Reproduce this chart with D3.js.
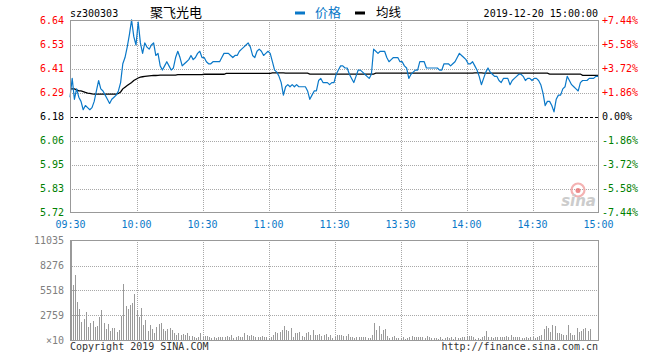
<!DOCTYPE html>
<html><head><meta charset="utf-8">
<script src="https://cdn.jsdelivr.net/npm/d3@7"></script>
<style>body{margin:0;background:#fff}svg{display:block}</style>
</head><body><svg id="c" width="660" height="360"></svg>
<script>
const stockCode = "sz300303";
const stockName = "聚飞光电";
const stamp = "2019-12-20 15:00:00";
const prevClose = 6.18;
const timeTickMinutes = [0, 30, 60, 90, 120, 150, 180, 210, 240];
const timeTickLabels = ["09:30","10:00","10:30","11:00","11:30","13:30","14:00","14:30","15:00"];
const pctTickValues = [7.44, 5.58, 3.72, 1.86, 0, -1.86, -3.72, -5.58, -7.44];
const priceTickLabels = ["6.64","6.53","6.41","6.29","6.18","6.06","5.95","5.83","5.72"];
const pctTickLabels = ["+7.44%","+5.58%","+3.72%","+1.86%","0.00%","-1.86%","-3.72%","-5.58%","-7.44%"];
const volTickValues = [11035, 8276, 5518, 2759, 0];
const volTickLabels = ["11035","8276","5518","2759","×10"];
const legendLabels = ["价格", "均线"];

const prices = [
6.27,6.36,6.26,6.31,6.27,6.25,6.21,6.23,6.22,6.21,
6.22,6.25,6.30,6.35,6.31,6.30,6.28,6.26,6.24,6.26,
6.27,6.28,6.30,6.34,6.43,6.46,6.51,6.57,6.64,6.56,
6.52,6.63,6.53,6.48,6.53,6.51,6.50,6.52,6.53,6.47,
6.48,6.42,6.40,6.42,6.44,6.42,6.40,6.41,6.46,6.49,
6.46,6.42,6.43,6.44,6.45,6.47,6.45,6.46,6.48,6.49,
6.46,6.46,6.44,6.43,6.43,6.44,6.44,6.44,6.44,6.46,
6.48,6.48,6.48,6.47,6.46,6.47,6.47,6.49,6.50,6.51,
6.52,6.53,6.51,6.47,6.46,6.49,6.50,6.49,6.47,6.48,
6.49,6.48,6.44,6.40,6.39,6.37,6.34,6.28,6.32,6.33,
6.32,6.33,6.32,6.33,6.32,6.32,6.32,6.32,6.30,6.26,
6.28,6.30,6.30,6.35,6.36,6.34,6.34,6.34,6.33,6.34,
6.34,6.38,6.40,6.42,6.42,6.41,6.41,6.38,6.36,6.34,
6.37,6.40,6.40,6.39,6.38,6.37,6.36,6.38,6.50,6.49,
6.48,6.49,6.49,6.49,6.46,6.44,6.45,6.46,6.46,6.46,
6.44,6.44,6.42,6.41,6.36,6.38,6.39,6.40,6.40,6.44,
6.44,6.44,6.41,6.41,6.41,6.41,6.41,6.41,6.40,6.40,
6.43,6.43,6.43,6.42,6.43,6.44,6.46,6.48,6.47,6.46,
6.45,6.43,6.43,6.44,6.42,6.40,6.37,6.33,6.36,6.39,
6.41,6.39,6.38,6.37,6.37,6.35,6.34,6.36,6.36,6.36,
6.33,6.35,6.36,6.37,6.38,6.38,6.37,6.35,6.36,6.36,
6.35,6.36,6.36,6.35,6.33,6.29,6.23,6.25,6.25,6.23,
6.20,6.26,6.28,6.28,6.31,6.32,6.37,6.35,6.33,6.32,
6.31,6.30,6.34,6.35,6.35,6.35,6.36,6.36,6.36,6.37,
6.37];

const avgPrices = [
6.31,6.31,6.31,6.305,6.30,6.30,6.297,6.293,6.29,6.288,
6.286,6.285,6.285,6.285,6.285,6.285,6.285,6.285,6.285,6.285,
6.285,6.285,6.288,6.295,6.31,6.318,6.326,6.333,6.34,6.35,
6.356,6.362,6.366,6.368,6.37,6.371,6.372,6.373,6.374,6.374,
6.375,6.376,6.376,6.376,6.376,6.376,6.376,6.376,6.376,6.378,
6.378,6.378,6.378,6.378,6.378,6.378,6.378,6.378,6.378,6.378,
6.378,6.380,6.380,6.380,6.380,6.380,6.380,6.380,6.380,6.380,
6.380,6.384,6.384,6.384,6.384,6.384,6.384,6.384,6.384,6.384,
6.384,6.384,6.384,6.384,6.384,6.384,6.384,6.384,6.384,6.384,
6.384,6.384,6.387,6.387,6.387,6.387,6.387,6.387,6.385,6.385,
6.385,6.385,6.385,6.385,6.385,6.385,6.385,6.385,6.385,6.381,
6.381,6.381,6.381,6.381,6.381,6.381,6.381,6.381,6.381,6.381,
6.381,6.381,6.381,6.381,6.381,6.381,6.381,6.381,6.381,6.381,
6.381,6.381,6.381,6.381,6.381,6.381,6.381,6.381,6.381,6.385,
6.385,6.385,6.385,6.385,6.385,6.385,6.385,6.385,6.385,6.385,
6.385,6.385,6.385,6.385,6.385,6.385,6.385,6.385,6.385,6.385,
6.385,6.385,6.385,6.385,6.385,6.385,6.385,6.385,6.385,6.385,
6.385,6.385,6.385,6.385,6.385,6.385,6.385,6.385,6.385,6.385,
6.385,6.385,6.385,6.385,6.387,6.387,6.387,6.387,6.385,6.385,
6.385,6.385,6.385,6.385,6.385,6.385,6.385,6.385,6.385,6.385,
6.385,6.385,6.385,6.385,6.385,6.385,6.385,6.385,6.385,6.385,
6.385,6.385,6.385,6.385,6.385,6.385,6.385,6.385,6.381,6.381,
6.381,6.381,6.381,6.381,6.381,6.381,6.381,6.381,6.381,6.381,
6.381,6.381,6.381,6.375,6.375,6.375,6.375,6.375,6.375,6.375,
6.375];

const volumes = [
11035,
6072,7176,4232,3386,2024,2282,3054,1472,1914,2098,
1472,1582,2576,3312,1840,1214,1766,994,1288,1362,
920,1104,2650,6182,3754,3422,3864,4122,5078,3312,
2502,3496,1656,2208,1030,1656,1178,810,1398,1730,
1914,1214,994,1214,1288,1104,736,552,810,552,
662,552,736,478,442,368,258,300,810,294,
442,405,368,221,294,258,368,294,368,368,
442,294,552,184,368,442,368,294,736,552,
442,515,442,294,368,368,442,294,294,184,
368,552,920,736,920,1104,1546,1104,1030,1325,
368,810,810,883,442,368,810,883,552,1104,
552,552,662,442,552,662,368,552,221,368,
552,552,552,442,442,662,368,294,258,368,
294,368,294,294,221,221,552,1914,1104,1546,
662,1104,1251,442,221,294,442,221,221,221,
294,147,221,368,442,294,294,294,294,368,
258,442,294,221,221,221,147,294,147,221,
368,221,294,147,294,221,221,294,368,442,
442,442,294,147,221,147,294,442,1030,368,
294,221,294,294,294,294,368,442,368,552,
368,294,294,294,221,221,294,221,294,294,
221,368,442,552,1178,1546,1362,920,1656,1546,
736,736,662,552,552,1619,736,552,552,1288,
920,1030,1178,1288,1030,1251,0,0,0,0];

const svg = d3.select("#c");
const mono = "'DejaVu Sans Mono', monospace";
const cjk = "'Noto Sans CJK SC', sans-serif";
const blue = "#0a78c8";
const L = 70, R = 598, T = 20, B = 212, VT = 240, VB = 340;

const x = d3.scaleLinear().domain([0, 240]).range([L, R]);
const pct = d3.scaleLinear().domain([-7.44, 7.44]).range([B, T]);
const yPrice = d3.scaleLinear().domain([prevClose * (1 - 0.0744), prevClose * (1 + 0.0744)]).range([B, T]);
const yVol = d3.scaleLinear().domain([0, 11035]).range([VB, VT]);

function dotted(g, color) {
  g.select(".domain").remove();
  g.selectAll("line").attr("stroke", color || "#a8a8a8").attr("stroke-dasharray", "1,1").attr("shape-rendering", "crispEdges");
}

// ---------- price panel grid ----------
svg.append("g").attr("transform", `translate(${L},0.5)`)
  .call(d3.axisLeft(pct).tickValues(pctTickValues.filter(v => Math.abs(v) < 7 && v !== 0)).tickSize(-(R - L)).tickFormat(""))
  .call(g => dotted(g));
svg.append("g").attr("transform", `translate(0.5,${T})`)
  .call(d3.axisBottom(x).tickValues(timeTickMinutes.slice(1, -1)).tickSize(B - T).tickFormat(""))
  .call(g => dotted(g));
// prev close dashed line
svg.append("g").attr("transform", `translate(${L},0.5)`)
  .call(d3.axisLeft(pct).tickValues([0]).tickSize(-(R - L)).tickFormat(""))
  .call(g => { g.select(".domain").remove(); g.selectAll("line").attr("stroke", "#000").attr("stroke-dasharray", "3,2").attr("shape-rendering", "crispEdges"); });

// ---------- volume panel grid ----------
svg.append("g").attr("transform", `translate(${L},0.5)`)
  .call(d3.axisLeft(yVol).tickValues(volTickValues.slice(1, -1)).tickSize(-(R - L)).tickFormat(""))
  .call(g => dotted(g));
svg.append("g").attr("transform", `translate(0.5,${VT})`)
  .call(d3.axisBottom(x).tickValues(timeTickMinutes.slice(1, -1)).tickSize(VB - VT).tickFormat(""))
  .call(g => dotted(g));

// ---------- watermark ----------
const wm = svg.append("g").attr("opacity", 0.8);
wm.append("circle").attr("cx", 578).attr("cy", 190).attr("r", 6.5).attr("fill", "none").attr("stroke", "#f2a0a0").attr("stroke-width", 2.2);
wm.append("circle").attr("cx", 578).attr("cy", 190.5).attr("r", 2.5).attr("fill", "#e87070");
wm.append("text").attr("x", 596).attr("y", 206).attr("text-anchor", "end").attr("font-family", "'DejaVu Sans', sans-serif").attr("font-size", 15).attr("font-weight", "bold").attr("font-style", "italic").attr("fill", "#c0c0c0").text("sina");

// ---------- volume bars ----------
svg.append("g").selectAll("rect").data(volumes).join("rect")
  .attr("x", (d, i) => Math.round(x(i) + 0.5))
  .attr("width", 1)
  .attr("y", d => yVol(d))
  .attr("height", d => VB - yVol(d))
  .attr("fill", "#9a9a9a")
  .attr("shape-rendering", "crispEdges");

// ---------- lines ----------
svg.append("path").datum(avgPrices)
  .attr("fill", "none").attr("stroke", "#000").attr("stroke-width", 1.3)
  .attr("d", d3.line().x((d, i) => x(i)).y(d => yPrice(d)));
svg.append("path").datum(prices)
  .attr("fill", "none").attr("stroke", blue).attr("stroke-width", 1.2).attr("stroke-linejoin", "round")
  .attr("d", d3.line().x((d, i) => x(i)).y(d => yPrice(d)));

// ---------- borders ----------
svg.append("rect").attr("x", L + 0.5).attr("y", T + 0.5).attr("width", R - L).attr("height", B - T)
  .attr("fill", "none").attr("stroke", "#999").attr("shape-rendering", "crispEdges");
svg.append("rect").attr("x", L + 0.5).attr("y", VT + 0.5).attr("width", R - L).attr("height", VB - VT)
  .attr("fill", "none").attr("stroke", "#999").attr("shape-rendering", "crispEdges");

// ---------- axes labels ----------
function colorFor(v) { return v > 0 ? "#f00" : (v < 0 ? "#008000" : "#000"); }
const leftAx = svg.append("g").attr("transform", `translate(${L},0)`)
  .call(d3.axisLeft(pct).tickValues(pctTickValues).tickSize(0).tickPadding(6)
    .tickFormat((d, i) => priceTickLabels[i]));
leftAx.select(".domain").remove();
leftAx.selectAll("text").attr("font-family", mono).attr("font-size", 10).attr("fill", d => colorFor(d));

const rightAx = svg.append("g").attr("transform", `translate(${R},0)`)
  .call(d3.axisRight(pct).tickValues(pctTickValues).tickSize(0).tickPadding(4)
    .tickFormat((d, i) => pctTickLabels[i]));
rightAx.select(".domain").remove();
rightAx.selectAll("text").attr("font-family", mono).attr("font-size", 10).attr("fill", d => colorFor(d));

const botAx = svg.append("g").attr("transform", `translate(0,${B})`)
  .call(d3.axisBottom(x).tickValues(timeTickMinutes).tickSize(0).tickPadding(8.7)
    .tickFormat((d, i) => timeTickLabels[i]));
botAx.select(".domain").remove();
botAx.selectAll("text").attr("font-family", mono).attr("font-size", 10).attr("fill", blue);

const volAx = svg.append("g").attr("transform", `translate(${L},0)`)
  .call(d3.axisLeft(yVol).tickValues(volTickValues).tickSize(0).tickPadding(6)
    .tickFormat((d, i) => volTickLabels[i]));
volAx.select(".domain").remove();
volAx.selectAll("text").attr("font-family", mono).attr("font-size", 10).attr("fill", "#808080");

// ---------- header ----------
svg.append("text").attr("x", L).attr("y", 17).attr("font-family", mono).attr("font-size", 10).attr("fill", "#000").text(stockCode);
svg.append("text").attr("x", 150).attr("y", 16.5).attr("font-family", cjk).attr("font-size", 13).attr("fill", "#000").text(stockName);
svg.append("rect").attr("x", 295).attr("y", 11.5).attr("width", 10).attr("height", 3).attr("fill", blue);
svg.append("text").attr("x", 315).attr("y", 16.5).attr("font-family", cjk).attr("font-size", 13).attr("fill", blue).text(legendLabels[0]);
svg.append("rect").attr("x", 355).attr("y", 11.5).attr("width", 10).attr("height", 3).attr("fill", "#000");
svg.append("text").attr("x", 376).attr("y", 16.5).attr("font-family", cjk).attr("font-size", 12.5).attr("fill", "#000").text(legendLabels[1]);
svg.append("text").attr("x", R).attr("y", 17).attr("text-anchor", "end").attr("font-family", mono).attr("font-size", 10).attr("fill", "#000").text(stamp);

// ---------- footer ----------
svg.append("text").attr("x", L).attr("y", 350).attr("font-family", mono).attr("font-size", 10).attr("fill", "#333").text("Copyright 2019 SINA.COM");
svg.append("text").attr("x", R).attr("y", 350).attr("text-anchor", "end").attr("font-family", mono).attr("font-size", 10).attr("fill", "#333").text("http://finance.sina.com.cn");
</script>
</body></html>
